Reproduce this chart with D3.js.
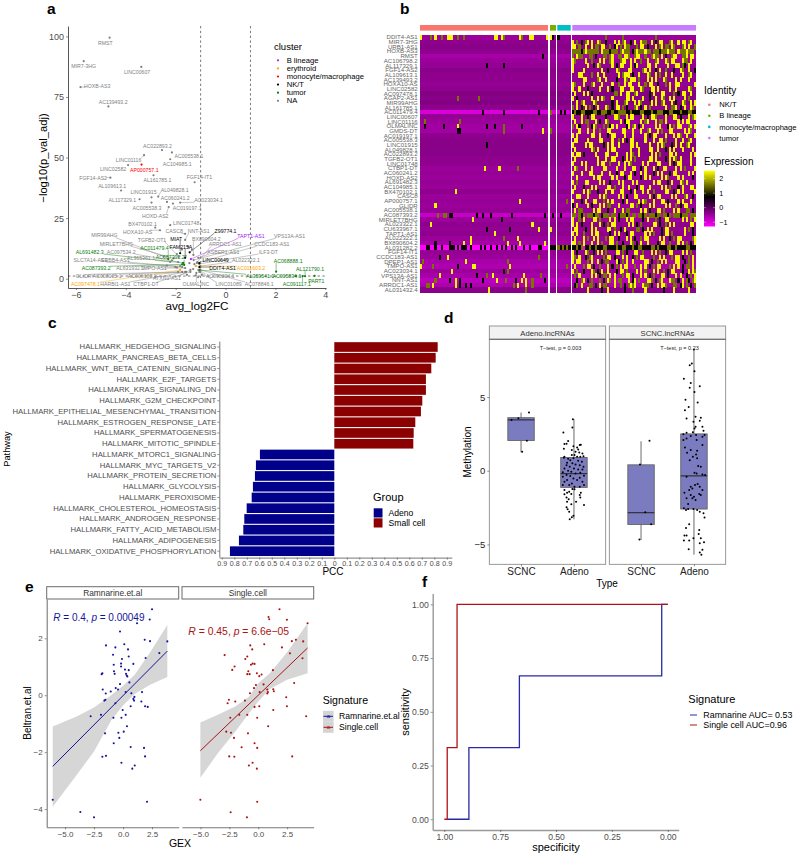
<!DOCTYPE html>
<html>
<head>
<meta charset="utf-8">
<script src="https://cdn.jsdelivr.net/npm/d3@7"></script>
<style>
  html, body { margin: 0; padding: 0; background: #fff; }
  svg { display: block; font-family: "Liberation Sans", Arial, sans-serif; }
</style>
</head>
<body>
<svg id="fig" width="797" height="853"></svg>
<script>
// ---- a: volcano values [name, avg_log2FC, -log10(p), cluster]
const clusterNames = ['B lineage', 'erythroid', 'monocyte/macrophage', 'NK/T', 'tumor', 'NA']
const volcanoGenes = [
  ['RMST', -4.65, 99.5, 'NA'], ['MIR7-3HG', -5.69, 89.8, 'NA'], ['LINC00607', -3.38, 87.4, 'NA'],
  ['HOXB-AS3', -5.82, 79.1, 'NA'], ['AC139493.2', -4.7, 71.1, 'NA'], ['AC022893.2', -2.55, 53.1, 'NA'],
  ['LINC01116', -3.27, 51, 'NA'], ['LINC02582', -3.91, 46.9, 'NA'], ['AC005538.1', -2.15, 52.1, 'NA'],
  ['AC104985.1', -2.22, 49.3, 'NA'], ['AP000757.1', -3.37, 47.1, 'monocyte/macrophage'],
  ['FGF14-AS2', -4.62, 41.7, 'NA'], ['AL161785.1', -2.89, 42.7, 'NA'], ['FGF14-IT1', -1.24, 39.8, 'NA'],
  ['AL109613.1', -4.19, 36.4, 'NA'], ['LINC01915', -2.97, 33.6, 'NA'], ['AL049828.1', -2.7, 33.9, 'NA'],
  ['AC060241.2', -2.35, 31.7, 'NA'], ['AL117329.1', -3.45, 32.8, 'NA'], ['AC023034.1', -1.82, 31.4, 'NA'],
  ['AC005538.3', -2.97, 31.4, 'NA'], ['AC019197.1', -2.11, 31, 'NA'], ['HOXD-AS2', -2.28, 29.6, 'NA'],
  ['BX470102.1', -2.82, 21.1, 'NA'], ['LINC01748', -2.22, 22.1, 'NA'], ['HOXA10-AS', -2.63, 20, 'NA'],
  ['CASC8', -1.62, 18.5, 'NA'], ['NNT-AS1', -1.62, 16, 'NA'], ['Z99774.1', -1.44, 10.9, 'NK/T'],
  ['TAPT1-AS1', -1.39, 8.1, 'B lineage'], ['VPS13A-AS1', -1.28, 7.7, 'NA'], ['MIR99AHG', -2.48, 9.1, 'NA'],
  ['MIAT', -1.82, 10.5, 'NK/T'], ['TGFB2-OT1', -1.88, 9.1, 'NA'], ['BX890604.2', -1.29, 9.8, 'NA'],
  ['ARRDC1-AS1', -1.13, 6.9, 'NA'], ['CCDC183-AS1', -1.15, 6.5, 'NA'], ['MIRLET7BHG', -2.08, 8.4, 'NA'],
  ['FAM215A', -1.62, 8.6, 'NK/T'], ['AC011479.4', -2.3, 8.1, 'tumor'], ['AL691482.3', -1.7, 6.5, 'tumor'],
  ['AC097534.2', -1.9, 6.9, 'NA'], ['ASBER1-AS1', -1.09, 8.6, 'NA'], ['ILF3-DT', -1.05, 6.1, 'NA'],
  ['AC087392.2', -1.66, 5.7, 'tumor'], ['AL365361.1', -2.22, 6.9, 'NA'], ['SLC7A14-AS1', -1.82, 5.2, 'NA'],
  ['ERBB4-AS1', -1.74, 4.8, 'NA'], ['LINC00649', -1.05, 6.4, 'NK/T'], ['AL022322.1', -1.01, 5.2, 'NA'],
  ['DDIT4-AS1', -1.05, 4.8, 'NK/T'], ['AC011603.2', -1.19, 5.2, 'erythroid'], ['AC087393.2', -1.74, 5.9, 'tumor'],
  ['AL631932.1', -2.02, 4.8, 'NA'], ['TMPO-AS1', -1.62, 4.4, 'NA'], ['GLIDR', -1.9, 2.8, 'NA'],
  ['AC008105.1', -1.74, 2.8, 'NA'], ['AC006160.1', -1.62, 2.8, 'NA'], ['ATXN1-AS1', -1.41, 3.6, 'NA'],
  ['AC097478.1', -1.82, 3.6, 'erythroid'], ['HARBI1-AS1', -1.58, 2.8, 'NA'], ['CTBP1-DT', -1.41, 2.8, 'NA'],
  ['OLMALINC', -1.17, 2.4, 'NA'], ['LINC01089', -1.05, 2.8, 'NA'], ['AC078846.1', -1.01, 3.6, 'NA'],
  ['AC068888.1', 2.03, 2.9, 'tumor'], ['AL121790.1', 3.19, 1, 'tumor'], ['PART1', 3.57, 1.2, 'tumor'],
  ['AC091117.1', 3.09, 1.1, 'tumor'], ['AC005834.1', 2.83, 1.1, 'tumor'], ['AL359541.1', -1.05, 3.6, 'tumor'],
  ['AC090204.1', -1.09, 3.6, 'NA'],
  ['', -1.5, 13.2, 'NA'], ['', -1.75, 12, 'NA'], ['', -1.35, 12, 'NA'], ['', -1.95, 10.2, 'NA'], ['', -1.6, 9.4, 'NA'],
  ['', -2.15, 7.6, 'NA'], ['', -1.25, 6, 'NA'], ['', -1.45, 6.4, 'NA'], ['', -2.35, 5.4, 'NA'], ['', -1.55, 1.6, 'NA'],
  ['', -1.2, 1.4, 'NA'], ['', -1.3, 4, 'NA'], ['', -1.95, 4.6, 'NA'], ['', -0.95, 1.6, 'NA'], ['', -1.1, 0.6, 'NA']
]

// ---- b: heatmap values
const heatGenes = [
  'DDIT4-AS1', 'MIR7-3HG', 'URB1-AS1', 'HOXB-AS3', 'RMST', 'AC106798.2', 'AL117329.1', 'FGF14-AS2', 'AL109613.1',
  'AC139493.2', 'HOXA10-AS', 'LINC02582', 'AC097478.1', 'AGAP2-AS1', 'MIR99AHG', 'AL161785.1', 'AC011479.4',
  'LINC00607', 'LINC01116', 'OLMALINC', 'GMDS-DT', 'AC019197.1', 'AC005538.3', 'LINC01915', 'AL049828.1',
  'AC022893.2', 'TGFB2-OT1', 'LINC01748', 'CTBP1-DT', 'AC060241.2', 'HOXD-AS2', 'AL691482.3', 'AC104985.1',
  'BX470102.1', 'CASC8', 'AP000757.1', 'GLIDR', 'AC005538.1', 'AC087393.2', 'MIRLET7BHG', 'AL023322.1',
  'CU633967.1', 'TAPT1-AS1', 'AL022322.1', 'BX890604.2', 'AL031282.2', 'FGF14-IT1', 'CCDC183-AS1', 'DPEP1-AS1',
  'TMPO-AS1', 'AC023034.1', 'VPS13A-AS1', 'NNT-AS1', 'ARRDC1-AS1', 'AL031432.4'
]
const identityNames = ['NK/T', 'B lineage', 'monocyte/macrophage', 'tumor']
const identityCols = [62, 3, 6, 60]
// resting expression of every gene, the colour of its row
const rowBase = [
  -0.5, -0.4, -0.35, -0.4, -0.6, -0.5, -0.45, -0.35, -0.4, -0.4, -0.45, -0.4, -0.3, -0.35, -0.3, -0.4, -1,
  -0.45, -0.5, -0.55, -0.55, -0.4, -0.35, -0.35, -0.35, -0.35, -0.4, -0.4, -0.5, -0.45, -0.5, -0.45, -0.5,
  -0.4, -0.5, -0.45, -0.5, -0.45, -0.85, -0.5, -0.4, -0.45, -0.4, -0.5, -0.6, -1.3, -0.45, -0.5, -0.6,
  -0.65, -0.5, -0.6, -0.75, -0.65, -0.35
]
// expression of a non resting cell: y bright, o olive, k near black
const hitLevels = { y: 2.45, o: 1.55, k: 0.8 }
const nkHits = [
  [0, 'y', [0, 7, 13, 14, 15, 36, 37, 39, 48, 53, 54, 61]], [0, 'o', [5, 10, 18, 21, 40, 49]], [4, 'k', [59]],
  [6, 'k', [32, 40]], [13, 'o', [18, 28]], [16, 'k', [30, 40, 57]], [18, 'o', [2, 19]],
  [19, 'k', [2, 11, 32, 36, 49]], [19, 'y', [18]], [19, 'o', [40]], [20, 'k', [18, 19]], [20, 'o', [40]], [20, 'y', [59]],
  [23, 'k', [32]], [28, 'y', [31, 38]], [28, 'o', [47]], [33, 'y', [17]], [35, 'y', [48]], [36, 'y', [7]],
  [38, 'o', [8, 11, 12]], [38, 'k', [14, 15, 27, 30, 34, 44, 60]], [39, 'y', [25]], [39, 'k', [39]], [40, 'y', [5, 54]],
  [41, 'k', [32, 43]], [41, 'y', [57]], [42, 'y', [36]], [43, 'y', [24, 47]], [43, 'o', [40]],
  [44, 'k', [7, 14]], [44, 'y', [21, 24, 42, 48, 60]],
  [45, 'k', [3, 4, 7, 10, 14, 15, 16, 18, 20, 21, 22, 24, 29, 31, 34, 37, 39, 41, 44, 46, 50, 53, 57, 58]],
  [47, 'k', [9]], [47, 'y', [13]], [47, 'o', [57]], [48, 'o', [1, 42]], [48, 'y', [22]],
  [49, 'y', [0, 25, 26, 43]], [49, 'o', [6]], [49, 'k', [18]], [50, 'y', [15]], [50, 'k', [40]], [50, 'o', [42]],
  [51, 'y', [9, 35, 50]], [51, 'k', [27]], [51, 'o', [32, 58]], [52, 'o', [7, 41, 54]], [52, 'k', [14, 19, 30, 46, 60]],
  [52, 'y', [17, 37, 49, 51]], [53, 'o', [3, 4, 45, 54]], [53, 'y', [6, 17, 47, 51]], [53, 'k', [19, 22, 24]],
  [54, 'y', [33]], [54, 'o', [51]]
]
const bcellHits = [
  [0, 'y', [0]], [0, 'k', [1]], [16, 'o', [0]], [20, 'o', [0]], [38, 'k', [1]], [41, 'y', [0]], [45, 'k', [0, 1, 2]]
]
const monoHits = [
  [0, 'k', [0]], [16, 'k', [1, 3]], [35, 'o', [4]], [38, 'k', [1]], [45, 'o', [0, 2, 4]], [45, 'k', [1, 3, 5]], [49, 'o', [4]]
]
const tumorRows = [
  '................o.......o...............o...................',
  'y.o.k.oy.y..yo..k...y.y.oy..k.y..yoo..y.k.yy...oy..y.yy.oy..',
  'yy.o..y..y.oo.yy..o.ky.o.yoo...o.yy.k...y.oy.oo.yo...oy.y..o',
  'ooookoyoooooo.yoookooo.oyooo.koyoooyoo.oookoooyooo.yoooyooo.',
  'o.yoo...oo.k...oo.oy..oo.yyo..oyy..o..oyoo.y.k..oyy..ooy.yy.',
  'yo....y..o...y.y..oy...oyy..y.y..o..y...oy...yo.yy...yoo.y..',
  'y......y..k.yo.....y.k.yy...y.ky....yy..y.....y...yy.ok.y...',
  'y....y........y..k...yo....yy.....oy.y..k.y..o...k..yo..y..k',
  '...yy....o..y..y......y.oyyy.k..y...yo..y.o..y..y....y..oy..',
  '.....yy.....oy..y....k...yo.yyy.o...y.y.y...yo....y.y...y...',
  'yo...y...oy...y....y..o..y.yy...y..o.yy..k...o.y..yy.......y',
  'y..y...k.....y...y.k...yy...yy...yo...yy.y.....y..y.....yo..',
  '.y...y.y.k..........oo.y..yy..oy.....k.y...yy....o.k.yy..y..',
  'y.k......y..y.yo...y......yy.y....y..k..y..yo..y.y....y.o...',
  '..y.oy....yo.......k.y...oy...y.yo....y.y..oy...y.k..yo..y.y',
  'o.y.k.y.o.k.y...yo.k.yy.o.k...oy.k.y.o.......y..ooy.k.y..yo.',
  'kokkookkkkookkoookkokkooookkokkkkookkkokkoookkkookkkokkkookk',
  'y...y..k.yy.....k...yyo...y.yy....y.k.yyo....y...yy.k...y.oy',
  '.y..y.oo...y.k..yo.....y.kyy.....y.oy...y.oo.y.....y.y.yy...',
  'o.yk...o.kyo...o.oky.y....ky.oy.k.y.....y.y...ky.o.yy...oy.y',
  '...y...y..y..o...yy.....yy...y...y..oy...y.o...yy.....y.yo..',
  'y.y......yy..y...k.yy....y...y.....y.k.yy....y...y.yo..y...y',
  '.yy....y.....yy....y..o.y.k.yy.....y...y..yy.o....y..y..oy..',
  'y.....y.yy.....k.y.y..y.....yy.y.....y...y.yo...k.y.y..oy...',
  '.y.......yo.y....y.yy.......y...y....yy..y...k.y.y...y....y.',
  'y.yy.k.....y....yy...y....y.yo..y.....y.y.o....yy.y......y.y',
  '.y..........y...y..yy...k.y.y.o......yy.y....k.y.yo.y....y..',
  'y...y.y.....y.yy..o...y..y.yo.....y.y....yy....y.k.yy....y..',
  '.yo...y..y.....yy....y...y...yy..k.y...y.k..yy....y.y.o....y',
  'y...y...yy....y...y..k.yy...y.k..y.y...k.y.y...k.yy.....y.y.',
  '..y.......y.yy.....y.y...k.yy....k.y.y.....y.yo....y.y....k.',
  'y.o...yy.....y.y..k...y.y....y.y.......y.yy...k.y...yo.y....',
  '.y...k...y.y.....yy.o...y..y...k.yy..y.....y.y.o...k.y...yy.',
  'y....y.yo...k...y..y...yy...k.y...y.y..o.....yy..k.y.y.....y',
  '..yy...y.....y.yo.....y.y.k...yy.....y.k.yy.....y.y...oy..k.',
  'y...k.y...yy...o.y.y....k.y.....y.yo...y...yy.k....y.y...y..',
  'k.y....y.k...y.y.oo...y.....yy.o.k...y.y.....y.y..o.k.yy....',
  '.y.oo.....y.yy...k..y...y.oo.....y.y.k...yy.o....y.y...oo.k.',
  'oo.oko.oookoo.kooo.oo.koooko.oo.ooko.oookoo.ooko.oookooo.ooo',
  'y..o.y....yy.o....y.y.k...y.yy....k.y...o.k..yy......y.y.o.y',
  'y.y.k....y...y.k.o.yy......y.y.k.o.....yy.k..o.y.y.......yy.',
  '.yy...k..y.y.....yy.o..k.y.....oo.k.y.y....k.yy.......y.o.k.',
  'y.y..o...y.yy.....k.y.y...k.yy.....y.y.o...k.yy.o.....y...k.',
  '.y...y.o..y.y...o.yy..k...y.y.k..o.yy.....y.y..k.o.yy.....oy',
  'yy.o.y...y..y.o...yy.o..k...yo.k.y..y....k.yy..o...y.y.o.k.y',
  'kkoko.kkokkokkkookkkkokkookkkokkookkkkookokkkkookkokkkkookkk',
  'y.k...yo..k.y.y.o....yy.o.k...yy..o...y.y.o..k.yy....y.y.o..',
  'yo.y..k.oy.....o.yy.k...y.y..k.o.yy....o..y.y...o.yy.k..o.y.',
  'y.yy...o.y..y.k.oo...yk.o.y..y.....yy.k..o.y.y....yy..k.o.y.',
  '.y...o.yy.k..o...y.k.o.y.yy...o..y.y.k.o.yy....o.y.y.k.oo.y.',
  'y.o..k...yo.k.y..y...k.yy.o....y.y.o...y.y..o.k.yy...k..y.yo',
  '.o.y.....y.y.k.oo.y.y...o.yy.k...y.y.k.o...yy.k...y.y..k.o.y',
  '..k.oy.k.o...o.k.yo.y.oo...y.ky.o...yyo.k.oy...yoo.k.y.ok.oy',
  '.ko.y...oo.k.y.oo...y..o.k.oyoy...yoo.k..y.yyo...oo.ky.o.k.o',
  '.......y......k..y.......k...o.....y........k....y......y....'
]

// ---- c: pathway correlations
const pathways = [
  'HEDGEHOG_SIGNALING', 'PANCREAS_BETA_CELLS', 'WNT_BETA_CATENIN_SIGNALING', 'E2F_TARGETS', 'KRAS_SIGNALING_DN',
  'G2M_CHECKPOINT', 'EPITHELIAL_MESENCHYMAL_TRANSITION', 'ESTROGEN_RESPONSE_LATE', 'SPERMATOGENESIS', 'MITOTIC_SPINDLE',
  'MTORC1_SIGNALING', 'MYC_TARGETS_V2', 'PROTEIN_SECRETION', 'GLYCOLYSIS', 'PEROXISOME', 'CHOLESTEROL_HOMEOSTASIS',
  'ANDROGEN_RESPONSE', 'FATTY_ACID_METABOLISM', 'ADIPOGENESIS', 'OXIDATIVE_PHOSPHORYLATION'
].map(d => 'HALLMARK_' + d)
const pccValues = [
  0.827, 0.811, 0.776, 0.733, 0.733, 0.704, 0.693, 0.648, 0.635, 0.632,
  -0.595, -0.627, -0.635, -0.651, -0.661, -0.701, -0.72, -0.728, -0.763, -0.835
]
const pccTicks = [-0.9, -0.8, -0.7, -0.6, -0.5, -0.4, -0.3, -0.2, -0.1, 0, 0.1, 0.2, 0.3, 0.4, 0.5, 0.6, 0.7, 0.8, 0.9]

// ---- d: methylation boxes [q1, median, q3, whisker low, whisker high], points are [jitter, value]
const methTypes = ['SCNC', 'Adeno']
const methFacets = ['Adeno.lncRNAs', 'SCNC.lncRNAs']
const methPvalues = ['T\u2212test, p = 0.003', 'T\u2212test, p = 0.23']
const methBoxes = [
  [[2.05, 3.45, 3.6, 1.25, 3.95], [-1.13, -0.2, 0.9, -3.3, 3.5]],
  [[-3.65, -2.85, 0.4, -4.7, 2], [-2.6, -0.35, 2.5, -5.7, 8.2]]
]
const adenoLncScnc = [[-0.18, 3.45], [-0.05, 3.57], [0.15, 3.95], [0.11, 2.03], [0.02, 1.29]]
const adenoLncAdeno = [
  [-0.02, 3.5], [-0.03, 2.93], [-0.2, 2.6], [-0.11, 2.01], [-0.18, 1.81], [-0.14, 1.83], [-0.19, 1.49], [-0.01, 1.67],
  [0.11, 1.74], [0.13, 1.76], [0.06, 1.58], [0.08, 1.44], [-0.04, 1.4], [0.03, 1.29], [0.1, 1.24], [0.16, 1.17],
  [0.01, 1.06], [-0.04, 1.06], [-0.18, 0.95], [-0.19, 0.88], [-0.01, 0.84], [0.06, 0.95], [0.12, 0.95], [0.18, 0.99],
  [-0.11, 0.81], [-0.07, 0.72], [0.08, 0.68], [0.15, 0.61], [-0.13, 0.54], [-0.03, 0.5], [0.03, 0.43], [-0.14, 0.38],
  [0.11, 0.38], [-0.08, 0.27], [0.18, 0.27], [0, 0.16], [-0.18, 0.16], [0.08, 0.09], [0.16, 0.09], [-0.11, 0],
  [-0.05, -0.07], [-0.21, -0.11], [0.03, -0.18], [0.12, -0.14], [-0.14, -0.29], [-0.07, -0.36], [0.19, -0.34],
  [-0.21, -0.41], [-0.01, -0.52], [0.11, -0.47], [-0.13, -0.63], [0.06, -0.63], [-0.18, -0.74], [0.16, -0.74],
  [-0.04, -0.86], [0.19, -0.97], [-0.09, -0.97], [0.01, -1.08], [0.11, -1.08], [-0.21, -0.97], [-0.03, -1.24],
  [0.01, -1.26], [-0.18, -1.31], [-0.13, -1.49], [-0.09, -1.42], [0.13, -1.49], [-0.18, -1.6], [-0.05, -1.58],
  [0.11, -1.65], [0.12, -1.81], [-0.14, -1.81], [-0.1, -1.94], [-0.13, -2.1], [0.04, -2.1], [-0.05, -2.28],
  [0.19, -2.33], [-0.14, -2.48], [-0.12, -2.62], [-0.09, -2.78], [-0.01, -3.05], [-0.04, -3.16], [-0.08, -3.3]
]
const scncLncScnc = [[0.16, 2.03], [-0.02, 0.43], [0.08, -2.82], [0.19, -3.63], [-0.03, -4.67]]
const scncLncAdeno = [
  [0, 8.22], [-0.04, 7.27], [-0.08, 7.16], [0.01, 6.75], [-0.19, 6.25], [-0.06, 5.96], [-0.08, 5.64], [0.11, 5.73],
  [0.01, 5.35], [-0.16, 4.81], [0.07, 4.63], [-0.1, 4.33], [-0.17, 4.11], [-0.14, 3.54], [0.03, 3.66], [0.13, 3.59],
  [0.11, 3.39], [-0.01, 3.32], [0.16, 2.98], [0.03, 2.98], [0.01, 2.87], [0.18, 2.71], [-0.14, 2.57], [-0.02, 2.62],
  [-0.2, 2.48], [-0.06, 2.35], [0.04, 2.42], [0.2, 2.42], [0.16, 2.3], [-0.14, 2.19], [0.05, 2.08], [-0.2, 2.08],
  [0.16, 1.74], [-0.17, 1.58], [-0.06, 1.4], [0.06, 1.35], [-0.13, 1.22], [0.04, 1.11], [-0.02, 0.95], [-0.08, 0.72],
  [0.06, 0.84], [0.08, 0.32], [0.13, 0.27], [0.01, -0.14], [0.05, -0.18], [0.16, -0.25], [0.21, -0.29], [-0.14, -0.41],
  [0.07, -0.9], [0.02, -0.97], [-0.06, -1.08], [-0.03, -1.2], [0.11, -1.08], [0.16, -1.31], [-0.09, -1.31], [-0.18, -1.49],
  [-0.06, -1.65], [0.1, -1.58], [0.13, -1.65], [0, -1.76], [-0.03, -1.87], [-0.14, -1.87], [0.03, -1.99], [-0.11, -2.26],
  [-0.19, -2.55], [-0.15, -2.66], [-0.01, -2.6], [-0.11, -2.6], [0.06, -2.66], [0.11, -2.78], [0.18, -2.89], [0.2, -3.18],
  [-0.09, -3.63], [-0.15, -3.88], [0.1, -4.02], [0.09, -4.29], [0.13, -4.58], [-0.18, -4.4], [-0.14, -4.4], [-0.01, -4.58],
  [-0.19, -4.74], [-0.09, -4.74], [0.19, -4.85], [0.11, -4.92], [-0.1, -5.33], [0.16, -5.37], [0.11, -5.55], [0.14, -5.71]
]

// ---- e: signature scatter, [GEX, Beltran.et.al]
const ramnarinePoints = [
  [2.5, 3.02], [2.3, 2.66], [1.21, 2.53], [-0.26, 2.24], [1.87, 1.95], [2.33, 1.9], [3.82, 1.89], [0.11, 1.79], [-1.47, 1.75],
  [-0.66, 1.68], [0.43, 1.61], [-0.86, 1.42], [0.49, 1.36], [1.95, 1.31], [3.13, 1.48], [-0.09, 1.27], [-0.17, 1.11],
  [-0.17, 1.01], [-0.8, 1.07], [0.89, 1.1], [0.17, 0.9], [0.49, 0.88], [-0.78, 0.84], [-1.78, 0.77], [-1.84, 0.74],
  [-0.72, 0.75], [0.26, 0.75], [0.32, 0.69], [0.37, 0.66], [0.55, 0.45], [-0.26, 0.39], [-0.63, 0.25], [-0.43, 0.2],
  [-1.75, 0.2], [-1.49, 0.06], [-1.06, 0.13], [0.23, 0.11], [0.72, 0.07], [0.98, -0.06], [1.64, 0.11], [0.89, -0.13],
  [0.95, -0.19], [-1.52, -0.16], [-1.61, -0.19], [1.58, -0.22], [0.66, -0.39], [-0.66, -0.28], [1.9, -0.39], [2.13, -0.41],
  [-0.03, -0.52], [0.23, -0.69], [-1.9, -0.69], [-2.79, -0.74], [-0.83, -0.79], [-0.14, -0.79], [0.34, -1.09], [0.06, -1.28],
  [-0.4, -1.32], [-1.55, -1.34], [-0.32, -1.5], [-0.8, -1.69], [0.66, -1.82], [1.81, -1.85], [1.9, -2.15], [-1.78, -2.16],
  [-1.47, -2.13], [-0.14, -2.37], [1.01, -2.47], [0.8, -2.58], [-6.06, -3.67], [2.07, -3.74], [-3.68, -4.1], [-2.5, -4.29]
]
const singleCellPoints = [
  [1.84, 3.02], [0.89, 2.75], [0.95, 2.67], [2.48, 2.65], [4.27, 2.53], [2.91, 1.9], [3.26, 1.95], [3.89, 1.89], [0.52, 1.79],
  [-0.69, 1.75], [2.05, 1.68], [-0.52, 1.61], [2.74, 1.47], [-2.91, 1.41], [3.83, 1.3], [-0.95, 1.36], [-1.12, 1.27],
  [-0.63, 1.07], [-0.49, 1.11], [-0.32, 1.1], [-2.05, 1.01], [-2.25, 0.89], [-0.86, 0.84], [-0.95, 0.74], [-0.75, 0.74],
  [1.27, 0.88], [-0.12, 0.77], [0.09, 0.67], [0.29, 0.73], [3.11, 0.43], [-0.2, 0.36], [0.46, 0.38], [-0.37, 0.25],
  [-0.72, 0.07], [0.78, 0.2], [0.84, 0.11], [0.78, 0.06], [1.3, 0.21], [1.35, 0.14], [0.12, 0.11], [-1.99, -0.22],
  [-2.54, -0.16], [-2.65, -0.28], [-1.15, -0.19], [2.42, -0.07], [-0.32, -0.41], [0.09, -0.39], [2.48, -0.39], [1.3, -0.52],
  [4.15, -0.74], [-1.64, -0.69], [-0.95, -0.69], [-2.42, -0.79], [-0.09, -0.79], [0.86, -1.09], [-2.77, -1.28], [-2.36, -1.32],
  [-0.89, -1.34], [-2.1, -1.5], [-0.32, -1.69], [-1.44, -1.83], [-0.09, -1.85], [-2.51, -2.15], [-2.07, -2.16], [2.94, -2.15],
  [-0.49, -2.37], [-0.81, -2.47], [-0.12, -2.58], [-5.01, -3.67], [-0.09, -3.74], [-2.39, -4.11], [-0.98, -4.29]
]
const ramnarineFitX = [-6.06, 3.82]
const ramnarineFitY = [-2.5, 1.55]
const ramnarineBandX = [-6.06, -4, -2.5, -1, 0, 1, 2.3, 3.82]
const ramnarineBandHi = [-1.1, -0.75, -0.43, 0.01, 0.33, 0.72, 1.48, 2.47]
const ramnarineBandLo = [-3.92, -2.8, -1.98, -0.87, -0.36, 0.04, 0.36, 0.64]
const singleFitX = [-5.01, 4.27]
const singleFitY = [-1.95, 1.66]
const singleBandX = [-5.01, -3.5, -2, -0.8, 0, 1, 2.5, 4.27]
const singleBandHi = [-0.96, -0.69, -0.4, -0.05, 0.42, 0.77, 1.51, 2.53]
const singleBandLo = [-2.9, -2.04, -1.28, -0.63, -0.22, 0.22, 0.54, 0.77]

// ---- f: ROC steps
const rocRamnarineSpec = [0.987, 0.89, 0.89, 0.664, 0.664, 0.027, 0.027, 0]
const rocRamnarineSens = [0, 0, 0.333, 0.333, 0.667, 0.667, 1, 1]
const rocSingleSpec = [1, 0.987, 0.987, 0.943, 0.943, 0]
const rocSingleSens = [0, 0, 0.333, 0.333, 1, 1]

// ---- layout only: where the repelled labels of panel a sit, in axis units
const labelAnchors = {
  'RMST': [-4.82, 97.4], 'MIR7-3HG': [-5.69, 87.8], 'LINC00607': [-3.55, 85.4], 'HOXB-AS3': [-5.15, 79.5],
  'AC139493.2': [-4.51, 73], 'AC022893.2': [-2.73, 54.8], 'LINC01116': [-3.89, 48.9], 'LINC02582': [-4.51, 45.1],
  'AC005538.1': [-1.47, 50.7], 'AC104985.1': [-1.94, 47.4], 'AP000757.1': [-3.26, 44.9], 'FGF14-AS2': [-5.31, 41.6],
  'AL161785.1': [-2.73, 40.8], 'FGF14-IT1': [-1.05, 41.7], 'AL109613.1': [-4.55, 38.3], 'LINC01915': [-3.29, 35.8],
  'AL049828.1': [-2.04, 36.7], 'AC060241.2': [-2.02, 33.3], 'AL117329.1': [-4.14, 32.6], 'AC023034.1': [-0.68, 32.4],
  'AC005538.3': [-3.15, 29.2], 'AC019197.1': [-1.54, 29.2], 'HOXD-AS2': [-2.82, 26], 'BX470102.1': [-3.33, 22.7],
  'LINC01748': [-1.58, 23], 'HOXA10-AS': [-3.53, 19.4], 'CASC8': [-2.06, 19.6], 'NNT-AS1': [-1.08, 19.7],
  'Z99774.1': [0, 19.6], 'TAPT1-AS1': [1.02, 17.5], 'VPS13A-AS1': [2.57, 17.5], 'MIR99AHG': [-4.86, 17.8],
  'MIAT': [-1.98, 16.4], 'TGFB2-OT1': [-2.95, 16.1], 'BX890604.2': [-0.77, 16.3], 'ARRDC1-AS1': [-0.01, 14.3],
  'CCDC183-AS1': [1.86, 14.2], 'MIRLET7BHG': [-4.38, 14.3], 'FAM215A': [-1.79, 13.2], 'AC011479.4': [-2.85, 12.7],
  'AL691482.3': [-5.45, 11], 'AC097534.2': [-4.19, 11], 'ASBER1-AS1': [-0.09, 11], 'ILF3-DT': [1.72, 11],
  'AC087392.2': [-2.22, 8.7], 'AL365361.1': [-3.39, 8.4], 'SLC7A14-AS1': [-5.42, 7.7], 'ERBB4-AS1': [-4.42, 7.7],
  'LINC00649': [-0.4, 7.7], 'AL022322.1': [0.82, 7.7], 'DDIT4-AS1': [-0.12, 4.3], 'AC011603.2': [1.02, 4.3],
  'AC087393.2': [-5.19, 4.3], 'AL631932.1': [-3.82, 4.3], 'TMPO-AS1': [-2.89, 4.5], 'GLIDR': [-5.69, 1],
  'AC008105.1': [-4.75, 1], 'AC006160.1': [-3.34, 1], 'ATXN1-AS1': [-2.35, 0.4], 'AC097478.1': [-5.62, -2.3],
  'HARBI1-AS1': [-4.42, -2.2], 'CTBP1-DT': [-3.19, -2.2], 'OLMALINC': [-1.19, -2.2], 'LINC01089': [0.12, -2.2],
  'AC078846.1': [1.35, -2.2], 'AC068888.1': [2.51, 7.4], 'AL121790.1': [3.39, 4.1], 'PART1': [3.64, -1],
  'AC091117.1': [2.86, -2.3], 'AC005834.1': [2.46, 1], 'AL359541.1': [1.39, 1], 'AC090204.1': [-0.21, 1]
}

const clusterColor = d3.scaleOrdinal()
  .domain(clusterNames)
  .range(['#a020f0', '#ffa500', '#ff0000', '#000000', '#0a7d0a', '#7f7f7f'])
const tickGray = '#4d4d4d'
const blue = '#14149a'
const red = '#a81414'

const svg = d3.select('#fig')

// small helpers
function addText(g, x, y, str, size, opts = {}) {
  return g.append('text')
    .attr('x', x)
    .attr('y', y)
    .attr('font-size', size)
    .attr('fill', opts.fill || '#000')
    .attr('text-anchor', opts.anchor || 'start')
    .attr('font-weight', opts.weight || null)
    .text(str)
}

function addRotated(g, x, y, str, size, fill = '#000') {
  return g.append('text')
    .attr('transform', `translate(${x},${y}) rotate(-90)`)
    .attr('font-size', size)
    .attr('fill', fill)
    .attr('text-anchor', 'middle')
    .text(str)
}

function styleAxis(sel, o) {
  sel.selectAll('.domain').attr('stroke', o.line).attr('stroke-width', o.width)
  sel.selectAll('.tick line').attr('stroke', o.tick || '#444').attr('stroke-width', 0.6)
  sel.selectAll('.tick text').attr('fill', tickGray).attr('font-size', o.size).attr('font-family', 'inherit')
}

;[['a', 47, 14], ['b', 400, 14], ['c', 48, 328], ['d', 444, 323], ['e', 25, 592], ['f', 422, 587]].forEach(d => {
  addText(svg, d[1], d[2], d[0], 15.5, { weight: 'bold' })
})

/******* a: volcano *******/
function drawVolcano(g) {
  const x = d3.scaleLinear().domain([-6.32, 4.03]).range([68, 326])
  const y = d3.scaleLinear().domain([-3.84, 104.3]).range([288, 26])

  g.append('g').attr('transform', 'translate(0,288)')
    .call(d3.axisBottom(x).tickValues([-6, -4, -2, 0, 2, 4]).tickSize(2).tickPadding(2).tickSizeOuter(0))
    .call(styleAxis, { line: '#444', width: 0.9, size: 9 })
  g.append('g').attr('transform', 'translate(68,0)')
    .call(d3.axisLeft(y).tickValues([0, 25, 50, 75, 100]).tickSize(2).tickPadding(2).tickSizeOuter(0))
    .call(styleAxis, { line: '#444', width: 0.9, size: 9 })

  const dashed = g.append('g').attr('stroke', '#222').attr('stroke-width', 0.6).attr('stroke-dasharray', '2.4 2.4')
  ;[-1, 1].forEach(v => {
    dashed.append('line').attr('x1', x(v)).attr('x2', x(v)).attr('y1', 26).attr('y2', 288)
  })
  dashed.append('line').attr('x1', 68).attr('x2', 326).attr('y1', y(1.1)).attr('y2', y(1.1))

  // connector, then point, then label
  const labelled = volcanoGenes.filter(d => d[0])
  labelled.forEach(d => {
    const [lx, ly] = labelAnchors[d[0]]
    const cx = x(lx)
    const cy = y(ly)
    const halfW = d[0].length * 1.4
    const ex = Math.max(cx - halfW, Math.min(cx + halfW, x(d[1])))
    const ey = Math.max(cy - 2, Math.min(cy + 2, y(d[2])))
    if (Math.hypot(ex - x(d[1]), ey - y(d[2])) > 4) {
      g.append('line')
        .attr('x1', x(d[1])).attr('y1', y(d[2])).attr('x2', ex).attr('y2', ey)
        .attr('stroke', clusterColor(d[3])).attr('stroke-width', 0.45)
    }
  })

  g.append('g').selectAll('circle')
    .data(volcanoGenes)
    .join('circle')
    .attr('cx', d => x(d[1]))
    .attr('cy', d => y(d[2]))
    .attr('r', 1.1)
    .attr('fill', d => clusterColor(d[3]))

  g.append('g').selectAll('text')
    .data(labelled)
    .join('text')
    .attr('x', d => x(labelAnchors[d[0]][0]))
    .attr('y', d => y(labelAnchors[d[0]][1]))
    .attr('dy', '0.35em')
    .attr('text-anchor', 'middle')
    .attr('font-size', 5.2)
    .attr('fill', d => clusterColor(d[3]))
    .text(d => d[0])

  addText(g, 197, 310, 'avg_log2FC', 11.7, { anchor: 'middle' })
  addRotated(g, 47, 158, '\u2212log10(p_val_adj)', 11.2)

  addText(g, 274, 50, 'cluster', 9.5)
  clusterNames.forEach((c, i) => {
    const ly = 60.3 + i * 8.1
    g.append('circle').attr('cx', 278).attr('cy', ly).attr('r', 1.1).attr('fill', clusterColor(c))
    addText(g, 286.7, ly + 2.6, c, 7.6)
  })
}

/******* b: heatmap *******/
function drawHeatmap(g) {
  const exprColor = d3.scaleLinear().domain([-1.3, 0.75, 2.5]).range(['#ff00ff', '#000000', '#ffff00'])
  const y = d3.scaleBand().domain(d3.range(heatGenes.length)).range([35, 292])
  const identityColors = ['#f8766d', '#7cae00', '#00bfc4', '#c77cff']
  const blocks = [[420, 548], [550, 556], [557.3, 570.7], [572.3, 696]]

  const cells = g.append('g').attr('shape-rendering', 'crispEdges')

  blocks.forEach((b, i) => {
    g.append('rect').attr('x', b[0]).attr('y', 25).attr('width', b[1] - b[0]).attr('height', 5.6)
      .attr('fill', identityColors[i])
    const x = d3.scaleBand().domain(d3.range(identityCols[i])).range(b)

    cells.append('g').selectAll('rect')
      .data(rowBase)
      .join('rect')
      .attr('x', b[0])
      .attr('y', (d, r) => y(r))
      .attr('width', b[1] - b[0])
      .attr('height', y.bandwidth() + 0.5)
      .attr('fill', d => exprColor(d))

    let hits = []
    if (i === 3) {
      tumorRows.forEach((s, r) => {
        s.split('').forEach((ch, c) => {
          if (ch !== '.' && c < 60) hits.push([r, c, hitLevels[ch]])
        })
      })
    } else {
      ;[nkHits, bcellHits, monoHits][i].forEach(h => {
        h[2].forEach(c => hits.push([h[0], c, hitLevels[h[1]]]))
      })
    }
    cells.append('g').selectAll('rect')
      .data(hits)
      .join('rect')
      .attr('x', d => x(d[1]))
      .attr('y', d => y(d[0]))
      .attr('width', x.bandwidth())
      .attr('height', y.bandwidth() + 0.5)
      .attr('fill', d => exprColor(d[2]))
  })

  g.append('g').selectAll('text')
    .data(heatGenes)
    .join('text')
    .attr('x', 417.7)
    .attr('y', (d, i) => y(i) + y.bandwidth() / 2)
    .attr('dy', '0.35em')
    .attr('text-anchor', 'end')
    .attr('font-size', 6.1)
    .attr('fill', '#666')
    .text(d => d)

  // identity legend
  addText(g, 704, 93.5, 'Identity', 10)
  identityNames.forEach((d, i) => {
    const ly = 104.7 + i * 11.1
    g.append('circle').attr('cx', 709.3).attr('cy', ly).attr('r', 1.3).attr('fill', identityColors[i])
    addText(g, 719.3, ly + 2.6, d, 7.6)
  })

  // expression colour bar
  addText(g, 704, 165, 'Expression', 10)
  const barY = d3.scaleLinear().domain([-1.3, 2.55]).range([226.5, 170.7])
  const grad = svg.append('defs').append('linearGradient').attr('id', 'exprGrad')
    .attr('x1', 0).attr('x2', 0).attr('y1', 1).attr('y2', 0)
  ;[-1.3, 0.75, 2.55].forEach((v, i) => {
    grad.append('stop').attr('offset', (v + 1.3) / 3.85).attr('stop-color', ['#ff00ff', '#000000', '#ffff00'][i])
  })
  g.append('rect').attr('x', 704).attr('y', 170.7).attr('width', 11).attr('height', 55.8).attr('fill', 'url(#exprGrad)')
  ;[2, 1, 0, -1].forEach(v => {
    addText(g, 719.3, barY(v) + 2.6, d3.format('d')(v), 7.2)
    g.append('line').attr('x1', 704).attr('x2', 706).attr('y1', barY(v)).attr('y2', barY(v)).attr('stroke', '#fff').attr('stroke-width', 0.4)
    g.append('line').attr('x1', 713).attr('x2', 715).attr('y1', barY(v)).attr('y2', barY(v)).attr('stroke', '#fff').attr('stroke-width', 0.4)
  })
}

/******* c: diverging bars *******/
function drawPathways(g) {
  const x = d3.scaleLinear().domain([-0.92, 0.94]).range([219.3, 451.8])
  const y = d3.scaleBand().domain(pathways).range([341.1, 557.1]).paddingInner(0.1).paddingOuter(0.1)

  g.append('g').selectAll('rect')
    .data(pathways)
    .join('rect')
    .attr('x', (d, i) => Math.min(x(0), x(pccValues[i])))
    .attr('y', d => y(d))
    .attr('width', (d, i) => Math.abs(x(pccValues[i]) - x(0)))
    .attr('height', y.bandwidth())
    .attr('fill', (d, i) => pccValues[i] > 0 ? '#8b0000' : '#00008b')

  g.append('g').attr('transform', 'translate(0,557.6)')
    .call(d3.axisBottom(x).tickValues(pccTicks).tickSize(2).tickPadding(1.5).tickSizeOuter(0)
      .tickFormat(d => d === 0 ? '0' : d3.format('.1f')(Math.abs(d))))
    .call(styleAxis, { line: '#555', width: 0.8, size: 7.1 })
  g.append('g').attr('transform', 'translate(219.3,0)')
    .call(d3.axisLeft(y).tickSize(2).tickPadding(1).tickSizeOuter(0))
    .call(styleAxis, { line: '#555', width: 0.8, size: 7.7 })

  addText(g, 333, 574.5, 'PCC', 10, { anchor: 'middle' })
  addRotated(g, 10, 449, 'Pathway', 9.2)

  addText(g, 373, 501, 'Group', 11)
  ;[['Adeno', '#00008b', 508.3], ['Small cell', '#8b0000', 518.3]].forEach(d => {
    g.append('rect').attr('x', 373.7).attr('y', d[2]).attr('width', 8.8).attr('height', 9.2).attr('fill', d[1])
    addText(g, 388.5, d[2] + 7.6, d[0], 8.6)
  })
}

/******* d: box plots *******/
function drawMethylation(g) {
  const panels = [[489.3, 605.7], [609.3, 725.7]]
  const top = 339.3
  const bottom = 564.3
  const y = d3.scaleLinear().domain([-6.35, 8.92]).range([bottom, top])
  const points = [[adenoLncScnc, adenoLncAdeno], [scncLncScnc, scncLncAdeno]]

  panels.forEach((p, i) => {
    const x = d3.scalePoint().domain(methTypes).range(p).padding(0.6)
    const step = x.step()
    const panel = g.append('g')

    panel.append('rect').attr('x', p[0]).attr('y', 326).attr('width', p[1] - p[0]).attr('height', top - 326)
      .attr('fill', '#f2f2f2').attr('stroke', '#7f7f7f').attr('stroke-width', 0.8)
    panel.append('line').attr('x1', p[0]).attr('x2', p[1]).attr('y1', top).attr('y2', top).attr('stroke', '#333').attr('stroke-width', 0.8)
    addText(panel, (p[0] + p[1]) / 2, 335.6, methFacets[i], 7.7, { anchor: 'middle', fill: '#333' })

    methTypes.forEach((t, k) => {
      const [q1, med, q3, lo, hi] = methBoxes[i][k]
      const cx = x(t)
      const w = step * 0.5
      panel.append('line').attr('x1', cx).attr('x2', cx).attr('y1', y(lo)).attr('y2', y(hi))
        .attr('stroke', '#6b6b6b').attr('stroke-width', 1)
      panel.append('rect').attr('x', cx - w / 2).attr('y', y(q3)).attr('width', w).attr('height', y(q1) - y(q3))
        .attr('fill', '#7b7bc0').attr('stroke', '#666').attr('stroke-width', 0.9)
      panel.append('line').attr('x1', cx - w / 2).attr('x2', cx + w / 2).attr('y1', y(med)).attr('y2', y(med))
        .attr('stroke', '#222').attr('stroke-width', 1)
      panel.append('g').selectAll('circle')
        .data(points[i][k])
        .join('circle')
        .attr('cx', d => cx + d[0] * step)
        .attr('cy', d => y(d[1]))
        .attr('r', 1)
        .attr('fill', '#000')
    })

    panel.append('rect').attr('x', p[0]).attr('y', top).attr('width', p[1] - p[0]).attr('height', bottom - top)
      .attr('fill', 'none').attr('stroke', '#7f7f7f').attr('stroke-width', 0.8)

    panel.append('g').attr('transform', `translate(0,${bottom})`)
      .call(d3.axisBottom(x).tickSize(2).tickPadding(2).tickSizeOuter(0))
      .call(styleAxis, { line: 'none', width: 0, size: 10 })
      .selectAll('.tick text').attr('fill', '#222')

    addText(panel, i === 0 ? 560.5 : 679.5, 350, methPvalues[i], 5.5, { anchor: 'middle', fill: '#222' })
  })

  g.append('g').attr('transform', 'translate(489.3,0)')
    .call(d3.axisLeft(y).tickValues([-5, 0, 5]).tickSize(2).tickPadding(2).tickSizeOuter(0))
    .call(styleAxis, { line: 'none', width: 0, size: 9.5 })
    .selectAll('.tick text').attr('fill', '#222')

  addRotated(g, 471, 452, 'Methylation', 10)
  addText(g, 607, 587, 'Type', 10, { anchor: 'middle' })
}

/******* e: scatter facets *******/
function drawScatter(g) {
  const top = 599
  const bottom = 827.3
  const y = d3.scaleLinear().domain([-4.64, 3.38]).range([bottom, top])
  const facets = [
    { name: 'Ramnarine.et.al', range: [46.7, 178.7], dom: [-6.58, 4.8], pts: ramnarinePoints, color: blue,
      fx: ramnarineFitX, fy: ramnarineFitY, bx: ramnarineBandX, hi: ramnarineBandHi, lo: ramnarineBandLo },
    { name: 'Single.cell', range: [182, 313.7], dom: [-6.6, 4.8], pts: singleCellPoints, color: red,
      fx: singleFitX, fy: singleFitY, bx: singleBandX, hi: singleBandHi, lo: singleBandLo }
  ]

  facets.forEach(f => {
    const x = d3.scaleLinear().domain(f.dom).range(f.range)
    const panel = g.append('g')

    panel.append('rect').attr('x', f.range[0]).attr('y', 586.7).attr('width', f.range[1] - f.range[0]).attr('height', 12.3)
      .attr('fill', '#fff').attr('stroke', '#6b6b6b').attr('stroke-width', 1)
    addText(panel, (f.range[0] + f.range[1]) / 2, 596, f.name, 8.4, { anchor: 'middle', fill: '#333' })

    const area = d3.area().x(d => x(d)).y0((d, i) => y(f.lo[i])).y1((d, i) => y(f.hi[i]))
    panel.append('path').datum(f.bx).attr('d', area).attr('fill', '#cfcfcf').attr('fill-opacity', 0.85)

    panel.append('g').selectAll('circle')
      .data(f.pts)
      .join('circle')
      .attr('cx', d => x(d[0]))
      .attr('cy', d => y(d[1]))
      .attr('r', 1.05)
      .attr('fill', f.color)

    panel.append('line')
      .attr('x1', x(f.fx[0])).attr('y1', y(f.fy[0]))
      .attr('x2', x(f.fx[1])).attr('y2', y(f.fy[1]))
      .attr('stroke', f.color).attr('stroke-width', 1)

    panel.append('g').attr('transform', `translate(0,${bottom})`)
      .call(d3.axisBottom(x).tickValues([-5, -2.5, 0, 2.5]).tickSize(2).tickPadding(2).tickSizeOuter(0)
        .tickFormat(d3.format('.1f')))
      .call(styleAxis, { line: '#777', width: 1.1, size: 8 })
  })

  g.append('g').attr('transform', 'translate(46.7,0)')
    .call(d3.axisLeft(y).tickValues([-4, -2, 0, 2]).tickSize(2).tickPadding(2).tickSizeOuter(0))
    .call(styleAxis, { line: '#777', width: 1.1, size: 8 })

  // stat_cor style annotation with italic R and p
  const corr = (x0, y0, color, r, p, size) => {
    const t = addText(g, x0, y0, '', size, { fill: color })
    t.append('tspan').attr('font-style', 'italic').text('R')
    t.append('tspan').text(` = ${r}, `)
    t.append('tspan').attr('font-style', 'italic').text('p')
    t.append('tspan').text(` = ${p}`)
  }
  corr(53.3, 621, blue, '0.4', '0.00049', 10)
  corr(188.3, 635, red, '0.45', '6.6e\u221205', 10.4)

  addText(g, 180, 847, 'GEX', 10.5, { anchor: 'middle' })
  addRotated(g, 31, 713, 'Beltran.et.al', 10)

  addText(g, 322.7, 704, 'Signature', 10.6)
  ;[['Ramnarine.et.al', blue, 710.8], ['Single.cell', red, 721.8]].forEach(d => {
    g.append('rect').attr('x', 323).attr('y', d[2]).attr('width', 10.6).attr('height', 11).attr('fill', '#d4d4d4')
    g.append('line').attr('x1', 323.5).attr('x2', 333).attr('y1', d[2] + 5.5).attr('y2', d[2] + 5.5).attr('stroke', d[1]).attr('stroke-width', 1)
    addText(g, 328.3, d[2] + 7.4, 'a', 6, { anchor: 'middle', fill: d[1] })
    addText(g, 339, d[2] + 8, d[0], 8.6)
  })
}

/******* f: ROC *******/
function drawRoc(g) {
  const x = d3.scaleLinear().domain([1.052, -0.049]).range([432.7, 678.7])
  const y = d3.scaleLinear().domain([-0.05, 1.05]).range([830, 593.6])

  g.append('g').attr('transform', 'translate(0,830)')
    .call(d3.axisBottom(x).tickValues([1, 0.75, 0.5, 0.25, 0]).tickSize(2).tickPadding(2).tickSizeOuter(0).tickFormat(d3.format('.2f')))
    .call(styleAxis, { line: '#999', width: 1.4, size: 8.6 })
  g.append('g').attr('transform', 'translate(432.7,0)')
    .call(d3.axisLeft(y).tickValues([0, 0.25, 0.5, 0.75, 1]).tickSize(2).tickPadding(2).tickSizeOuter(0).tickFormat(d3.format('.2f')))
    .call(styleAxis, { line: '#999', width: 1.4, size: 8.6 })

  const line = d3.line().x(d => x(d[0])).y(d => y(d[1]))
  g.append('path').datum(d3.zip(rocRamnarineSpec, rocRamnarineSens)).attr('d', line)
    .attr('fill', 'none').attr('stroke', '#2a2aa6').attr('stroke-width', 1.3)
  g.append('path').datum(d3.zip(rocSingleSpec, rocSingleSens)).attr('d', line)
    .attr('fill', 'none').attr('stroke', '#b01217').attr('stroke-width', 1.3)

  addText(g, 556, 851, 'specificity', 11, { anchor: 'middle' })
  addRotated(g, 409, 712, 'sensitivity', 11)

  addText(g, 688.3, 703, 'Signature', 11)
  ;[['Ramnarine AUC= 0.53', '#2a2aa6', 715], ['Single cell AUC=0.96', '#b01217', 725]].forEach(d => {
    g.append('line').attr('x1', 690).attr('x2', 697).attr('y1', d[2]).attr('y2', d[2]).attr('stroke', d[1]).attr('stroke-width', 1)
    addText(g, 703.3, d[2] + 3, d[0], 8.9)
  })
}

drawVolcano(svg.append('g').attr('class', 'panel-a'))
drawHeatmap(svg.append('g').attr('class', 'panel-b'))
drawPathways(svg.append('g').attr('class', 'panel-c'))
drawMethylation(svg.append('g').attr('class', 'panel-d'))
drawScatter(svg.append('g').attr('class', 'panel-e'))
drawRoc(svg.append('g').attr('class', 'panel-f'))
</script>
</body>
</html>
